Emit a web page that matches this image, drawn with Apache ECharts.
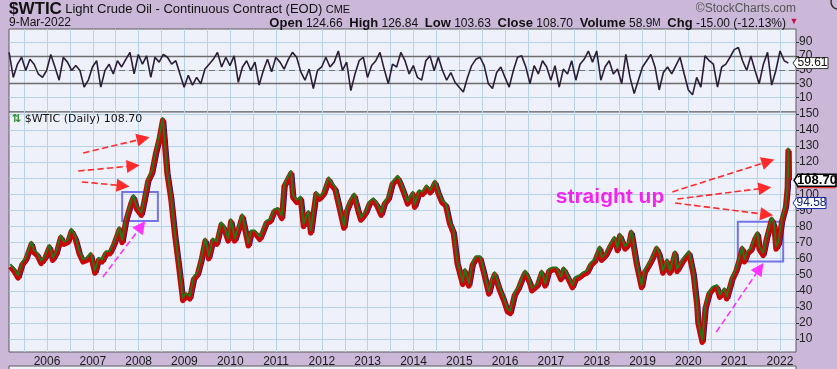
<!DOCTYPE html>
<html><head><meta charset="utf-8">
<script src="https://cdn.jsdelivr.net/npm/echarts@6/dist/echarts.min.js"></script>
<style>html,body{margin:0;padding:0;background:#cbb8d9;}#c{width:837px;height:369px;}</style>
</head><body><div id="c"></div><script>
// ---- data ----
const priceDates = ['2005-03-15','2005-04-15','2005-05-15','2005-06-15','2005-07-15','2005-08-29','2005-09-15','2005-10-15','2005-11-15','2005-12-15',
'2006-01-20','2006-02-15','2006-03-15','2006-04-20','2006-05-15','2006-06-15','2006-07-14','2006-08-15','2006-09-15','2006-10-15','2006-11-15','2006-12-15',
'2007-01-18','2007-02-15','2007-03-15','2007-04-15','2007-05-15','2007-06-15','2007-07-31','2007-08-22','2007-09-20','2007-10-31','2007-11-20','2007-12-15',
'2008-01-22','2008-02-15','2008-03-15','2008-04-15','2008-05-15','2008-06-15','2008-07-11','2008-08-15','2008-09-15','2008-10-15','2008-11-15','2008-12-19',
'2009-01-15','2009-02-12','2009-03-15','2009-04-15','2009-05-15','2009-06-15','2009-07-13','2009-08-15','2009-09-15','2009-10-21','2009-11-15','2009-12-15',
'2010-01-06','2010-02-05','2010-03-15','2010-04-06','2010-05-25','2010-06-15','2010-07-15','2010-08-24','2010-09-15','2010-10-15','2010-11-15','2010-12-15',
'2011-01-15','2011-02-15','2011-03-07','2011-04-29','2011-05-15','2011-06-15','2011-07-15','2011-08-08','2011-09-15','2011-10-04','2011-11-15','2011-12-15',
'2012-01-15','2012-02-24','2012-03-15','2012-04-15','2012-05-15','2012-06-25','2012-07-15','2012-08-15','2012-09-14','2012-10-15','2012-11-07','2012-12-15',
'2013-01-15','2013-02-15','2013-03-15','2013-04-18','2013-05-15','2013-06-15','2013-07-15','2013-08-28','2013-09-15','2013-10-15','2013-11-15','2013-12-27',
'2014-01-10','2014-02-15','2014-03-15','2014-04-15','2014-05-15','2014-06-20','2014-07-15','2014-08-15','2014-09-15','2014-10-15','2014-11-15','2014-12-15',
'2015-01-28','2015-02-15','2015-03-17','2015-04-15','2015-05-15','2015-06-15','2015-07-15','2015-08-24','2015-09-15','2015-10-09','2015-11-15','2015-12-21',
'2016-01-20','2016-02-11','2016-03-15','2016-04-15','2016-05-15','2016-06-09','2016-07-15','2016-08-02','2016-09-15','2016-10-19','2016-11-14','2016-12-15',
'2017-01-15','2017-02-15','2017-03-22','2017-04-12','2017-05-15','2017-06-21','2017-07-15','2017-08-15','2017-09-15','2017-10-15','2017-11-15','2017-12-15',
'2018-01-25','2018-02-09','2018-03-15','2018-04-15','2018-05-22','2018-06-15','2018-07-03','2018-08-15','2018-09-15','2018-10-03','2018-11-15','2018-12-24',
'2019-01-15','2019-02-15','2019-03-15','2019-04-23','2019-05-15','2019-06-12','2019-07-15','2019-08-07','2019-09-16','2019-10-03','2019-11-15','2019-12-15',
'2020-01-06','2020-02-10','2020-03-09','2020-03-18','2020-04-21','2020-05-15','2020-06-15','2020-07-15','2020-08-15','2020-09-08','2020-10-15','2020-11-02','2020-12-15',
'2021-01-15','2021-02-15','2021-03-05','2021-03-23','2021-04-15','2021-05-15','2021-06-15','2021-07-06','2021-07-19','2021-08-20','2021-09-15','2021-10-26','2021-11-15','2021-12-01','2021-12-20',
'2022-01-15','2022-02-15','2022-03-01','2022-03-07','2022-03-09'];
const priceValues = [55,52,48,56,59,69,64,62,57,60,
67,59,63,73,69,70,77,72,63,58,59,62,
51,59,58,63,63,68,78,70,83,94,98,91,
87,96,108,113,125,135,146,113,97,75,56,34,
37,35,47,50,59,71,60,71,69,81,78,71,
83,71,80,86,68,76,76,72,76,82,83,89,
90,85,105,113,98,95,97,80,88,76,100,97,
100,109,106,103,93,79,89,95,99,90,84,88,
94,96,93,87,94,97,106,110,107,101,94,100,
92,101,100,104,101,107,101,95,93,82,76,57,
44,52,43,56,60,60,51,38,45,50,41,34,
27,26,37,41,47,51,45,40,43,51,43,52,
53,53,47,53,48,42,47,48,50,51,56,58,
66,59,62,67,72,65,74,66,69,76,56,42,
51,55,59,66,62,51,58,51,63,52,58,61,
63,50,31,20,8,29,38,41,42,36,40,35,47,
52,60,66,58,63,65,72,75,66,62,72,84,80,66,69,
83,92,104,127,108.7];
const rsiValues = [75,39,58,68,49,65,58,44,39,49,72,54,35,68,61,49,56,49,25,35,
54,63,25,49,58,44,63,54,65,75,44,72,58,70,39,68,61,72,68,58,
63,44,25,42,28,39,30,51,58,65,75,54,68,56,70,32,54,63,49,61,
28,49,65,47,68,61,51,65,75,68,47,35,51,23,49,54,68,54,61,77,
49,61,20,44,63,68,39,56,63,75,51,30,58,54,75,63,44,56,39,35,
63,70,49,68,49,35,46,32,25,18,39,56,65,68,56,30,23,46,54,39,
25,49,68,70,54,30,56,44,63,54,35,56,25,51,44,63,35,58,65,77,
61,77,35,54,63,44,51,30,72,39,16,35,54,63,72,54,21,46,54,44,
56,68,44,21,14,39,25,70,63,58,25,54,58,68,79,82,63,49,70,49,
30,58,75,28,49,77,63,59.61];
const rsiFirstDate = '2005-03-05', rsiLastDate = '2022-03-09';
const yearLabels = [2006,2007,2008,2009,2010,2011,2012,2013,2014,2015,2016,2017,2018,2019,2020,2021,2022];
const halfYearTicks = [2005.5,2006,2006.5,2007,2007.5,2008,2008.5,2009,2009.5,2010,2010.5,2011,2011.5,2012,2012.5,2013,2013.5,2014,2014.5,2015,2015.5,2016,2016.5,2017,2017.5,2018,2018.5,2019,2019.5,2020,2020.5,2021,2021.5,2022];
const priceTicks = [10,20,30,40,50,60,70,80,90,100,110,120,130,140,150];
const rsiTicks = [10,30,50,70,90];
const lastClose = 108.70, lastMA = 94.58, lastRSI = 59.61;

// ---- helpers ----
function decYear(s){const p=s.split('-').map(Number);const t=Date.UTC(p[0],p[1]-1,p[2]),a=Date.UTC(p[0],0,1),b=Date.UTC(p[0]+1,0,1);return p[0]+(t-a)/(b-a);}
const priceData = priceDates.map((d,i)=>[decYear(d), priceValues[i]]);
const r0 = decYear(rsiFirstDate), r1 = decYear(rsiLastDate);
const rsiData = rsiValues.map((v,i)=>[r0+(r1-r0)*i/(rsiValues.length-1), v]);

const XMIN = 2005.17, XMAX = 2022.35;
const PMIN = 1.9, PMAX = 151.2;
const FONT = 'Liberation Sans, Arial, sans-serif';

const chart = echarts.init(document.getElementById('c'), null, {renderer:'canvas'});
const gridStyle = {show:true, lineStyle:{color:'#b7d3e8', width:1}};
function xAxisBase(grid, showLabels, shift){
  return {type:'value', gridIndex:grid, min:XMIN+(shift||0), max:XMAX+(shift||0), show: shift===undefined,
    axisLine:{show:false}, axisTick:{show:false, customValues:halfYearTicks},
    splitLine: gridStyle,
    axisLabel:{show:showLabels, customValues:yearLabels, formatter:v=>String(Math.round(v)), color:'#1a1a1a', fontFamily:FONT, fontSize:12, margin:4}};
}
const arrowRed = {type:'dashed', color:'#ff2a2a', width:1.6};
const arrowMag = {type:'dashed', color:'#ff33ff', width:1.6};
function arrow(a,b,style){return [{coord:a, lineStyle:style, itemStyle:{color:style.color}},{coord:b, itemStyle:{color:style.color}}];}

chart.setOption({
  animation:false,
  backgroundColor:'#cbb8d9',
  grid:[
    {left:9, right:41, top:29, height:83, show:true, backgroundColor:'#eff1fa', borderColor:'#5a5a5a', borderWidth:1},
    {left:9, right:41, top:112, height:240, show:true, backgroundColor:'#eff1fa', borderColor:'#5a5a5a', borderWidth:1}
  ],
  xAxis:[ xAxisBase(0,false), xAxisBase(1,true), xAxisBase(1,false,-0.06) ],
  yAxis:[
    {type:'value', gridIndex:0, position:'right', min:-10.7, max:108.6,
      axisLine:{show:false}, axisTick:{show:true, customValues:rsiTicks, length:3, lineStyle:{color:'#333'}},
      splitLine:gridStyle,
      axisLabel:{customValues:rsiTicks, color:'#222', fontFamily:FONT, fontSize:12, margin:3}},
    {type:'value', gridIndex:1, position:'right', min:PMIN, max:PMAX,
      axisLine:{show:false}, axisTick:{show:true, customValues:priceTicks, length:3, lineStyle:{color:'#333'}},
      splitLine:gridStyle,
      axisLabel:{customValues:priceTicks, color:'#222', fontFamily:FONT, fontSize:12, margin:3}},
    {type:'value', gridIndex:1, show:false, min:PMIN-1.6, max:PMAX-1.6, splitLine:{show:false}}
  ],
  series:[
    {type:'line', xAxisIndex:0, yAxisIndex:0, data:rsiData, showSymbol:false, z:5,
      lineStyle:{color:'#2a1d36', width:1.6},
      markLine:{silent:true, symbol:'none', label:{show:false},
        lineStyle:{color:'#6e6e6e', width:1.3, type:'solid'},
        data:[{yAxis:70},{yAxis:30},{yAxis:50, lineStyle:{type:[6,4], color:'#777', width:1}}]}},
    {type:'line', xAxisIndex:2, yAxisIndex:1, data:priceData, showSymbol:false, z:3,
      lineStyle:{color:'#1d1a6e', width:1.6}},
    {type:'line', xAxisIndex:1, yAxisIndex:1, data:priceData, showSymbol:false, z:4,
      lineStyle:{color:'#c80808', width:5.5, join:'round'},
      markArea:{silent:true, itemStyle:{color:'rgba(0,0,0,0)', borderColor:'#7474ea', borderWidth:2},
        data:[[{coord:[2007.64,101.5]},{coord:[2008.42,83.4]}],[{coord:[2021.08,83.0]},{coord:[2022.07,58.2]}]]},
      markLine:{silent:true, symbol:['none','triangle'], symbolSize:13, label:{show:false},
        data:[
          arrow([2006.79,125.7],[2008.10,134.6],arrowRed),
          arrow([2006.68,114.5],[2007.88,117.7],arrowRed),
          arrow([2006.76,107.7],[2007.66,105.3],arrowRed),
          arrow([2007.22,48.6],[2008.06,80.2],arrowMag),
          arrow([2019.65,101.5],[2021.74,120.4],arrowRed),
          arrow([2019.76,97.1],[2021.67,103.9],arrowRed),
          arrow([2019.71,94.6],[2021.71,87.4],arrowRed),
          arrow([2020.61,14.3],[2021.56,54.0],arrowMag)
        ]}},
    {type:'line', xAxisIndex:1, yAxisIndex:2, data:priceData, showSymbol:false, z:5,
      lineStyle:{color:'#1f7a1a', width:1.8, join:'round'}}
  ]
});

// ---- overlay text & value tags, positioned through the chart scales ----
const rsiY = chart.convertToPixel({xAxisIndex:0, yAxisIndex:0}, [XMAX, lastRSI])[1];
const closeY = chart.convertToPixel({xAxisIndex:1, yAxisIndex:1}, [XMAX, lastClose])[1];
const maY = chart.convertToPixel({xAxisIndex:1, yAxisIndex:1}, [XMAX, lastMA])[1];
const txtPt = chart.convertToPixel({xAxisIndex:1, yAxisIndex:1}, [2018.29, 98.4]);
function tag(x0, x1, y, h, text, stroke, color, bold, extra){
  const pts=[[x0,y],[x0+4,y-h/2],[x1,y-h/2],[x1,y+h/2],[x0+4,y+h/2]];
  const els=[{type:'polygon', shape:{points:pts}, style:{fill:'#ffffff', stroke:stroke, lineWidth:bold?1.6:1}, z:100},
    {type:'text', x:(x0+4+x1)/2, y:y, style:{text:text, fill:color, font:(bold?'bold 13px ':'12px ')+FONT, align:'center', verticalAlign:'middle'}, z:101}];
  return els.concat(extra||[]);
}
const g = [];
g.push(...tag(793, 828, rsiY, 11, lastRSI.toFixed(2), '#333', '#111', false));
g.push(...tag(794, 836, closeY, 12, lastClose.toFixed(2), '#000', '#000', true,
  [{type:'line', shape:{x1:797, y1:closeY+7, x2:836, y2:closeY+7}, style:{stroke:'#e03030', lineWidth:2}, z:99}]));
g.push(...tag(793, 826, maY, 11, lastMA.toFixed(2), '#1d2fb0', '#10207a', false));
g.push({type:'text', x:txtPt[0], y:txtPt[1], style:{text:'straight up', fill:'#f424f0', font:'bold 21px '+FONT, align:'center', verticalAlign:'middle'}, z:100});
// header
g.push({type:'text', x:9, y:1, style:{text:'{a|$WTIC} {b|Light Crude Oil - Continuous Contract (EOD)} {c|CME}',
  rich:{a:{font:'bold 17px '+FONT, fill:'#111'}, b:{font:'13px '+FONT, fill:'#111'}, c:{font:'11px '+FONT, fill:'#111'}}}, z:100});
g.push({type:'text', x:9, y:17, style:{text:'9-Mar-2022', font:'12px '+FONT, fill:'#111'}, z:100});
g.push({type:'text', x:786, y:17, style:{align:'right',
  text:'{l|Open} {n|124.66}  {l|High} {n|126.84}  {l|Low} {n|103.63}  {l|Close} {n|108.70}  {l|Volume} {n|58.9}{s|M}  {l|Chg} {n|-15.00 (-12.13%)}',
  rich:{l:{font:'bold 13px '+FONT, fill:'#111'}, n:{font:'12px '+FONT, fill:'#111'}, s:{font:'10px '+FONT, fill:'#111'}}}, z:100});
g.push({type:'text', x:794, y:17, style:{text:'\u25BC', font:'9px '+FONT, fill:'#c8104a', align:'center'}, z:100});
g.push({type:'text', x:796, y:3, style:{text:'\u00A9StockCharts.com', font:'12px '+FONT, fill:'#555', align:'right'}, z:100});
g.push({type:'circle', shape:{cx:838, cy:2, r:7}, style:{fill:'#cbb8d9', stroke:'#333', lineWidth:1.5}, z:100});
// legend inside price panel
g.push({type:'text', x:12, y:114, style:{text:'{i|\u21C5} $WTIC (Daily) 108.70', font:'11px DejaVu Sans, sans-serif', fill:'#111',
  rich:{i:{font:'bold 11px DejaVu Sans, sans-serif', fill:'#2a8a2a'}}}, z:100});
// start of next panel at bottom
g.push({type:'rect', shape:{x:9, y:366, width:787, height:6}, style:{fill:'#eff1fa', stroke:'#5a5a5a', lineWidth:1}, z:100});
chart.setOption({graphic:g});
</script></body></html>
